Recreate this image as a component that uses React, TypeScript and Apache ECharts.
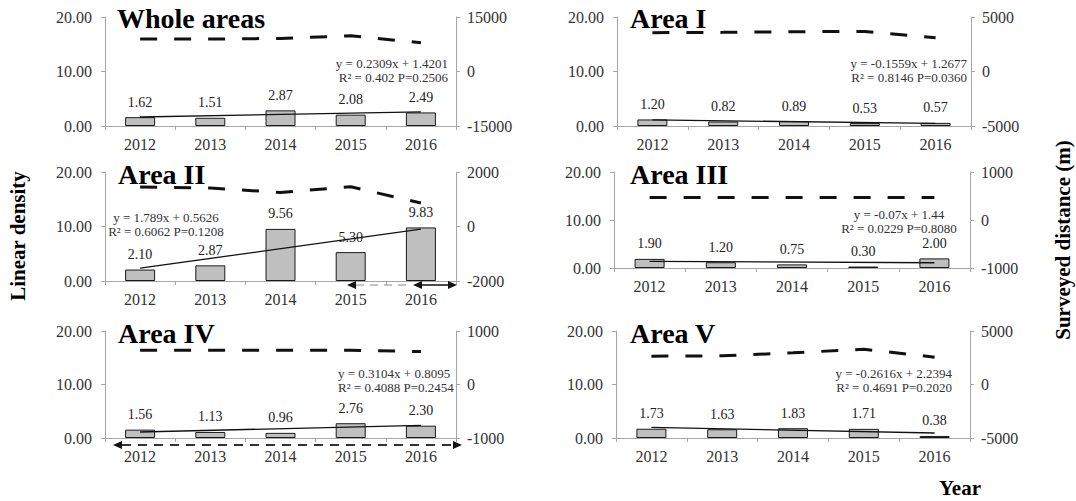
import { useEffect, useRef } from "react";
import * as echarts from "echarts";

const years = ["2012", "2013", "2014", "2015", "2016"];
const panelTitles = ["Whole areas", "Area I", "Area II", "Area III", "Area IV", "Area V"];

// Linear density (bars)
const densityWhole = [1.62, 1.51, 2.87, 2.08, 2.49];
const densityI = [1.2, 0.82, 0.89, 0.53, 0.57];
const densityII = [2.1, 2.87, 9.56, 5.3, 9.83];
const densityIII = [1.9, 1.2, 0.75, 0.3, 2.0];
const densityIV = [1.56, 1.13, 0.96, 2.76, 2.3];
const densityV = [1.73, 1.63, 1.83, 1.71, 0.38];

// Surveyed distance (m) (dashed line, right axis)
const distanceWhole = [8930, 8930, 9110, 9840, 7910];
const distanceI = [3560, 3590, 3650, 3680, 3100];
const distanceII = [1450, 1410, 1250, 1460, 860];
const distanceIII = [470, 470, 470, 470, 470];
const distanceIV = [640, 640, 640, 640, 615];
const distanceV = [2650, 2680, 2960, 3300, 2555];

// Linear regression shown in each panel
const slopes = [0.2309, -0.1559, 1.789, -0.07, 0.3104, -0.2616];
const intercepts = [1.4201, 1.2677, 0.5626, 1.44, 0.8095, 2.2394];
const r2Values = ["0.402", "0.8146", "0.6062", "0.0229", "0.4088", "0.4691"];
const pValues = ["0.2506", "0.0360", "0.1208", "0.8080", "0.2454", "0.2020"];

// Axis ranges
const leftAxisMax = 20;
const leftAxisStep = 10;
const rightAxisMax = [15000, 5000, 2000, 1000, 1000, 5000];

const densities = [densityWhole, densityI, densityII, densityIII, densityIV, densityV];
const distances = [distanceWhole, distanceI, distanceII, distanceIII, distanceIV, distanceV];

const FONT = '"Liberation Serif", "Times New Roman", serif';
const AXIS_GRAY = "#a6a6a6";
const TEXT = "#333";

const gridBoxes = [
  { left: 105, top: 17, width: 351, height: 109 },
  { left: 617, top: 17, width: 354, height: 109 },
  { left: 105, top: 172, width: 351, height: 109 },
  { left: 614, top: 172, width: 356, height: 96 },
  { left: 105, top: 331, width: 351, height: 107 },
  { left: 616, top: 331, width: 354, height: 107 },
];

const titlePos = [
  { x: 117, y: 18.5 },
  { x: 630, y: 18.5 },
  { x: 118, y: 174.5 },
  { x: 630, y: 174.5 },
  { x: 118, y: 333.5 },
  { x: 630, y: 333.5 },
];

const eqPos = [
  { x: 448, y: 63, align: "right" },
  { x: 967, y: 63, align: "right" },
  { x: 166, y: 217, align: "center" },
  { x: 899, y: 214, align: "center" },
  { x: 338, y: 373, align: "left" },
  { x: 952, y: 373, align: "right" },
];

function buildOption() {
  const grid: any[] = [];
  const xAxis: any[] = [];
  const yAxis: any[] = [];
  const series: any[] = [];
  const graphic: any[] = [];

  gridBoxes.forEach((g, i) => {
    grid.push({ ...g, containLabel: false });
    xAxis.push({
      type: "category",
      gridIndex: i,
      data: years,
      boundaryGap: true,
      axisLine: { show: true, lineStyle: { color: AXIS_GRAY, width: 1 } },
      axisTick: { show: true, length: 4, lineStyle: { color: AXIS_GRAY } },
      axisLabel: { interval: 0, margin: 10, fontSize: 16, color: TEXT, fontFamily: FONT },
      splitLine: { show: false },
    });
    yAxis.push({
      type: "value",
      gridIndex: i,
      position: "left",
      min: 0,
      max: leftAxisMax,
      interval: leftAxisStep,
      axisLine: { show: true, lineStyle: { color: AXIS_GRAY, width: 1 } },
      axisTick: { show: true, length: 4, lineStyle: { color: AXIS_GRAY } },
      splitLine: { show: false },
      axisLabel: {
        formatter: (v: number) => v.toFixed(2),
        margin: 13,
        fontSize: 16,
        color: TEXT,
        fontFamily: FONT,
      },
    });
    const m = rightAxisMax[i];
    yAxis.push({
      type: "value",
      gridIndex: i,
      position: "right",
      min: -m,
      max: m,
      interval: m,
      axisLine: { show: true, lineStyle: { color: AXIS_GRAY, width: 1 } },
      axisTick: { show: true, length: 4, lineStyle: { color: AXIS_GRAY } },
      splitLine: { show: false },
      axisLabel: {
        formatter: (v: number) => String(v),
        margin: 11,
        fontSize: 16,
        color: TEXT,
        fontFamily: FONT,
      },
    });

    series.push({
      type: "bar",
      xAxisIndex: i,
      yAxisIndex: i * 2,
      data: densities[i],
      barWidth: 30,
      itemStyle: { color: "#bfbfbf", borderColor: "#1a1a1a", borderWidth: 1 },
      label: {
        show: true,
        position: "top",
        distance: 8,
        formatter: (p: any) => Number(p.value).toFixed(2),
        fontSize: 14,
        color: "#222",
        fontFamily: FONT,
      },
      z: 2,
    });

    const a = slopes[i];
    const b = intercepts[i];
    series.push({
      type: "line",
      xAxisIndex: i,
      yAxisIndex: i * 2,
      data: [
        [0, a * 1 + b],
        [4, a * 5 + b],
      ],
      symbol: "none",
      lineStyle: { color: "#111", width: 1.3 },
      silent: true,
      z: 3,
    });

    series.push({
      type: "line",
      xAxisIndex: i,
      yAxisIndex: i * 2 + 1,
      data: distances[i],
      symbol: "none",
      lineStyle: { color: "#111", width: 3, type: [17, 17] },
      silent: true,
      z: 4,
    });

    graphic.push({
      type: "text",
      x: titlePos[i].x,
      y: titlePos[i].y,
      z: 10,
      style: {
        text: panelTitles[i],
        font: `bold 28px ${FONT}`,
        fill: "#000",
        textAlign: "left",
        textVerticalAlign: "middle",
        verticalAlign: "middle",
      },
    });

    const eq1 = `y = ${a}x + ${b}`;
    const eq2 = `R² = ${r2Values[i]} P=${pValues[i]}`;
    [eq1, eq2].forEach((t, k) => {
      graphic.push({
        type: "text",
        x: eqPos[i].x,
        y: eqPos[i].y + k * 14,
        z: 10,
        style: {
          text: t,
          font: `13px ${FONT}`,
          fill: "#333",
          textAlign: eqPos[i].align,
          textVerticalAlign: "middle",
          verticalAlign: "middle",
        },
      });
    });
  });

  // Axis titles
  graphic.push({
    type: "text",
    x: 18,
    y: 236,
    rotation: Math.PI / 2,
    style: {
      text: "Linear density",
      font: `bold 21px ${FONT}`,
      fill: "#000",
      textAlign: "center",
      textVerticalAlign: "middle",
      verticalAlign: "middle",
    },
  });
  graphic.push({
    type: "text",
    x: 1063,
    y: 240,
    rotation: Math.PI / 2,
    style: {
      text: "Surveyed distance (m)",
      font: `bold 21px ${FONT}`,
      fill: "#000",
      textAlign: "center",
      textVerticalAlign: "middle",
      verticalAlign: "middle",
    },
  });
  graphic.push({
    type: "text",
    x: 960,
    y: 488,
    style: {
      text: "Year",
      font: `bold 21px ${FONT}`,
      fill: "#000",
      textAlign: "center",
      textVerticalAlign: "middle",
      verticalAlign: "middle",
    },
  });

  // Arrow annotations (Area II and Area IV)
  const head = (tipX: number, y: number, dir: number) => ({
    type: "polygon",
    shape: {
      points: [
        [tipX, y],
        [tipX + dir * 9, y - 4],
        [tipX + dir * 9, y + 4],
      ],
    },
    style: { fill: "#111" },
    z: 10,
  });
  graphic.push({
    type: "line",
    shape: { x1: 356, y1: 285, x2: 410, y2: 285 },
    style: { stroke: "#888", lineWidth: 1, lineDash: [8, 6] },
    z: 10,
  });
  graphic.push(head(347, 285, 1));
  graphic.push({
    type: "line",
    shape: { x1: 420, y1: 285, x2: 450, y2: 285 },
    style: { stroke: "#111", lineWidth: 1.5 },
    z: 10,
  });
  graphic.push(head(413, 285, 1));
  graphic.push(head(457, 285, -1));

  graphic.push({
    type: "line",
    shape: { x1: 122, y1: 445, x2: 453, y2: 445 },
    style: { stroke: "#333", lineWidth: 2, lineDash: [9, 7] },
    z: 10,
  });
  graphic.push(head(113, 445, 1));
  graphic.push(head(462, 445, -1));

  return {
    animation: false,
    backgroundColor: "#fff",
    textStyle: { fontFamily: FONT },
    grid,
    xAxis,
    yAxis,
    series,
    graphic,
  };
}

export default function App() {
  const ref = useRef<HTMLDivElement>(null);
  useEffect(() => {
    if (!ref.current) return;
    const chart = echarts.init(ref.current, undefined, { renderer: "svg" });
    chart.setOption(buildOption() as any);
    return () => chart.dispose();
  }, []);
  return (
    <div
      ref={ref}
      style={{ position: "fixed", left: 0, top: 0, width: 1076, height: 501, background: "#fff" }}
    />
  );
}
